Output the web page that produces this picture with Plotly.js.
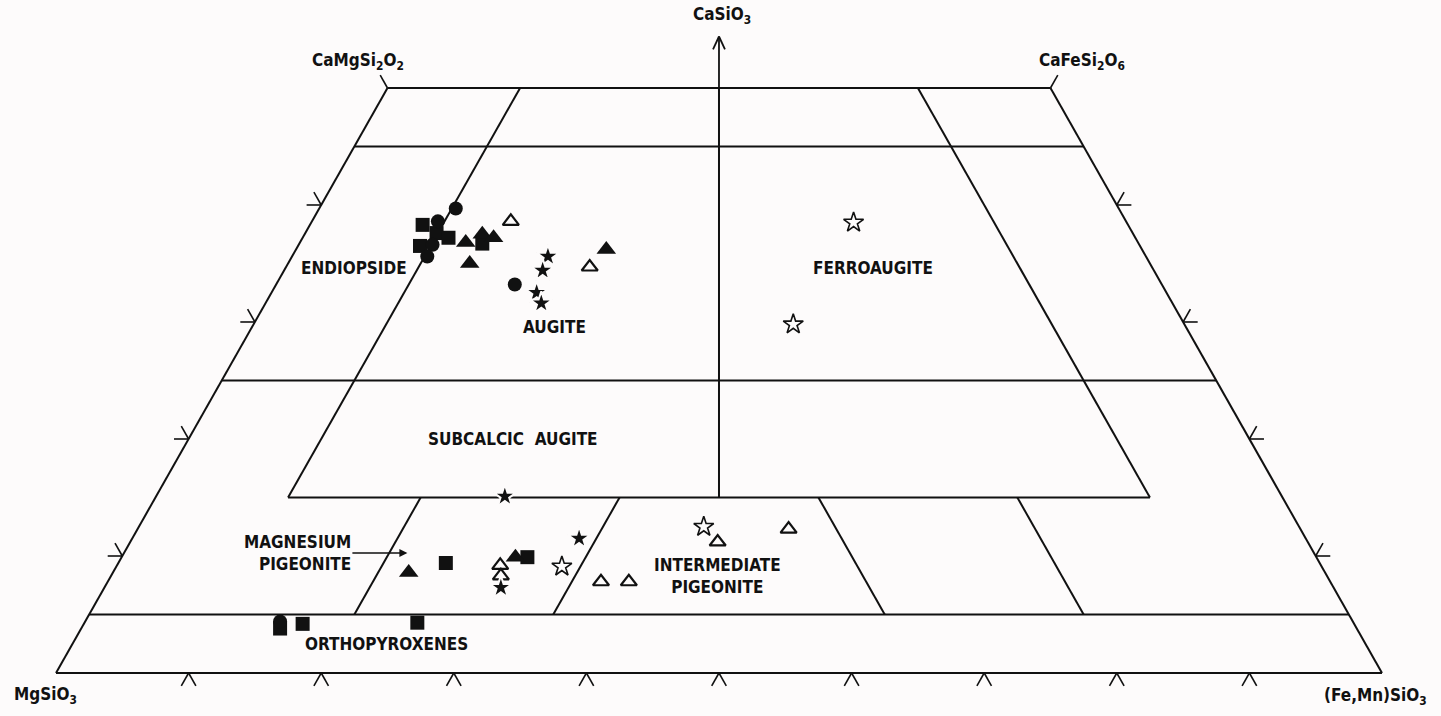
<!DOCTYPE html>
<html>
<head>
<meta charset="utf-8">
<script src="https://cdn.plot.ly/plotly-3.0.1.min.js"></script>
<style>html,body{margin:0;padding:0;background:#fdfbfb;}#chart{width:1441px;height:716px;}</style>
</head>
<body>
<div id="chart"></div>
<script>
// ---- Pyroxene quadrilateral: compositions in mol % (Wo = CaSiO3, Fs = (Fe,Mn)SiO3, En = 100 - Wo - Fs)
// Field boundaries
const woLines = [[50, 0, 50], [45, 0, 55], [25, 0, 75], [15, 10, 75], [5, 0, 95], [0, 0, 100]]; // [Wo, Fs from, Fs to]
const fsLines = [[0, 0, 50], [10, 15, 50], [20, 5, 15], [35, 5, 15]];                         // [Fs, Wo from, Wo to]
const enLines = [[0, 0, 50], [10, 15, 50], [20, 5, 15], [35, 5, 15]];                         // [En, Wo from, Wo to]
const midLine = [15, 50];                                                                     // En = Fs, Wo from..to

// Tick values
const bottomTicks = [10, 20, 30, 40, 50, 60, 70, 80, 90]; // Fs at Wo = 0
const sideTicks = [10, 20, 30, 40];                        // Wo on both sides

// Analyses (Wo, Fs)
const circleWo = [39.7, 38.6, 36.6, 35.6, 33.2, 4.4];
const circleFs = [10.3, 9.5, 10.1, 10.2, 18.0, 14.7];
const squareWo = [38.3, 37.6, 37.2, 36.5, 36.7, 9.4, 9.9, 3.8, 4.2, 4.3];
const squareFs = [8.5, 9.9, 11.0, 9.2, 13.8, 24.7, 30.6, 15.0, 16.5, 25.1];
const triWo = [36.8, 37.5, 37.2, 35.0, 36.2, 8.6, 9.9];
const triFs = [12.5, 13.4, 14.4, 13.7, 23.4, 22.3, 29.7];
const openTriWo = [38.6, 34.7, 9.2, 8.3, 7.8, 7.8, 11.2, 12.3];
const openTriFs = [15.0, 22.9, 28.9, 29.4, 37.2, 39.3, 44.3, 49.1];
const starWo = [35.6, 34.4, 32.5, 31.6, 15.1, 11.5, 7.3];
const starFs = [19.3, 19.5, 20.0, 20.8, 26.3, 33.7, 29.9];
const openStarWo = [38.5, 29.8, 9.1, 12.5];
const openStarFs = [40.9, 40.7, 33.6, 42.6];

// ---- projection of a composition onto the quadrilateral
const px = (wo, fs) => fs + wo / 2;

const FONT = '"DejaVu Sans Condensed", "Liberation Sans Narrow", "DejaVu Sans", sans-serif';
const traces = [];

function seg(woA, fsA, woB, fsB, width) {
  traces.push({type: 'scatter', mode: 'lines', hoverinfo: 'skip', showlegend: false,
    x: [px(woA, fsA), px(woB, fsB)], y: [woA, woB],
    line: {color: '#111', width: width || 2}});
}
woLines.forEach(([wo, a, b]) => seg(wo, a, wo, b));
fsLines.forEach(([fs, a, b]) => seg(a, fs, b, fs));
enLines.forEach(([en, a, b]) => seg(a, 100 - a - en, b, 100 - b - en));
seg(midLine[0], (100 - midLine[0]) / 2, midLine[1], (100 - midLine[1]) / 2);

// ternary-style ticks
const t = 1.1;
bottomTicks.forEach(fs => { seg(0, fs, -t, fs, 1.6); seg(0, fs, -t, fs + t, 1.6); });
sideTicks.forEach(wo => {
  seg(wo, 0, wo, -t, 1.6); seg(wo, 0, wo + t, -t, 1.6);                               // left side
  seg(wo, 100 - wo, wo, 100 - wo + t, 1.6); seg(wo, 100 - wo, wo + t, 100 - wo, 1.6); // right side
});
seg(50, 0, 50 + t, -t, 1.6);   // CaMgSi2O6 corner
seg(50, 50, 50 + t, 50, 1.6);  // CaFeSi2O6 corner

// CaSiO3 direction arrow (along En = Fs)
const arrowTop = 54.4;
const mid = wo => 50 - wo / 2;
seg(50, mid(50), arrowTop, mid(arrowTop), 1.8);
seg(arrowTop, mid(arrowTop), arrowTop - 1.1, mid(arrowTop - 1.1) - 0.45, 1.8);
seg(arrowTop, mid(arrowTop), arrowTop - 1.1, mid(arrowTop - 1.1) + 0.45, 1.8);

function pts(wo, fs, symbol, size, fill, lineW, lineC) {
  traces.push({type: 'scatter', mode: 'markers', showlegend: false,
    x: wo.map((w, i) => px(w, fs[i])), y: wo,
    text: wo.map((w, i) => 'Wo ' + w + ' En ' + (100 - w - fs[i]).toFixed(1) + ' Fs ' + fs[i]),
    hoverinfo: 'text',
    marker: {symbol: symbol, size: size, color: fill, line: {width: lineW, color: lineC}}});
}
pts(squareWo, squareFs, 'square', 14, '#111', 0, '#111');
pts(circleWo, circleFs, 'circle', 14, '#111', 0, '#111');
pts(triWo, triFs, 'triangle-up', 17, '#111', 0, '#111');
pts(openTriWo, openTriFs, 'triangle-up-open', 14, '#111', 2.2, '#111');
pts(starWo, starFs, 'star', 17, '#111', 2, '#fdfbfb');
pts(openStarWo, openStarFs, 'star-open', 15, '#111', 1.6, '#111');

const lab = (x, y, text, size, extra) => Object.assign({
  x: x, y: y, xref: 'x', yref: 'y', text: text, showarrow: false,
  font: {family: FONT, size: size || 17, color: '#111', weight: 'bold'}}, extra || {});

const annotations = [
  lab(22.5, 34.6, 'ENDIOPSIDE'),
  lab(37.6, 29.6, 'AUGITE'),
  lab(61.6, 34.6, 'FERROAUGITE'),
  lab(34.5, 20.0, 'SUBCALCIC  AUGITE'),
  lab(49.85, 8.3, 'INTERMEDIATE<br>PIGEONITE', 17, {align: 'center'}),
  lab(24.9, 2.45, 'ORTHOPYROXENES'),
  lab(26.5, 10.25, 'MAGNESIUM<br>PIGEONITE', 17,
      {showarrow: true, ax: -110, ay: 0, align: 'right', arrowhead: 2, arrowsize: 1,
       arrowwidth: 1.6, arrowcolor: '#111', standoff: 0}),
  lab(22.8, 52.3, 'CaMgSi<sub>2</sub>O<sub>2</sub>'),
  lab(50.2, 56.2, 'CaSiO<sub>3</sub>'),
  lab(77.4, 52.3, 'CaFeSi<sub>2</sub>O<sub>6</sub>'),
  lab(-0.8, -1.9, 'MgSiO<sub>3</sub>'),
  lab(99.5, -2.0, '(Fe,Mn)SiO<sub>3</sub>')
];

const layout = {
  width: 1441, height: 716,
  margin: {l: 0, r: 0, t: 0, b: 0},
  paper_bgcolor: '#fdfbfb', plot_bgcolor: '#fdfbfb',
  xaxis: {range: [-4.223, 104.45], visible: false, fixedrange: true},
  yaxis: {range: [-3.675, 57.52], visible: false, fixedrange: true},
  showlegend: false,
  annotations: annotations
};
Plotly.newPlot('chart', traces, layout, {displayModeBar: false});
</script>
</body>
</html>
